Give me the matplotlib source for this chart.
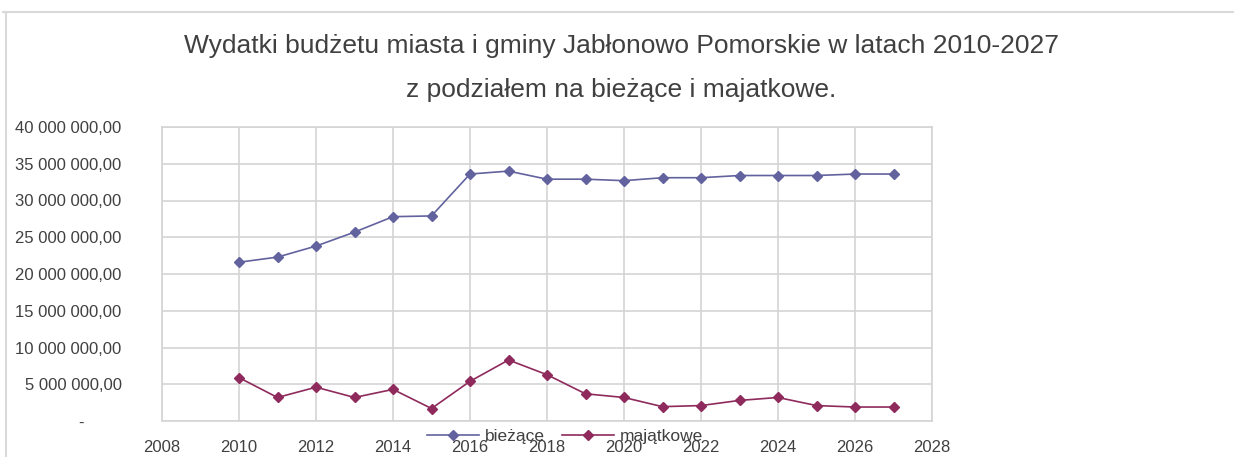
import matplotlib.pyplot as plt
from matplotlib.lines import Line2D
from matplotlib.ticker import FuncFormatter, MultipleLocator

years = list(range(2010, 2028))
biezace = [21.6, 22.3, 23.8, 25.7, 27.8, 27.9, 33.6, 34.0, 32.9, 32.9,
           32.7, 33.1, 33.1, 33.4, 33.4, 33.4, 33.6, 33.6]
majatkowe = [5.9, 3.2, 4.6, 3.2, 4.3, 1.7, 5.4, 8.3, 6.3, 3.7,
             3.2, 1.95, 2.1, 2.8, 3.2, 2.1, 1.9, 1.9]
title = ("Wydatki budżetu miasta i gminy Jabłonowo Pomorskie w latach 2010-2027\n"
         "z podziałem na bieżące i majatkowe.")

plt.rcParams["font.family"] = ["Liberation Sans", "DejaVu Sans"]

W, H = 1234, 457
fig = plt.figure(figsize=(W / 100, H / 100), dpi=100)
ax = fig.add_axes([162 / W, 1 - 421 / H, (932 - 162) / W, (421 - 127) / H])

ax.plot(years, [v * 1e6 for v in biezace], color="#62629f", marker="D",
        markersize=5.5, linewidth=1.2, label="bieżące")
ax.plot(years, [v * 1e6 for v in majatkowe], color="#8e2a5c", marker="D",
        markersize=5.5, linewidth=1.2, label="majątkowe")

ax.set_xlim(2008, 2028)
ax.set_ylim(0, 40e6)
ax.xaxis.set_major_locator(MultipleLocator(2))
ax.yaxis.set_major_locator(MultipleLocator(5e6))


def fmt(v, _):
    if v == 0:
        return "-        "
    return f"{v:,.2f}".replace(",", " ").replace(".", ",")


ax.yaxis.set_major_formatter(FuncFormatter(fmt))
ax.grid(True, color="#d4d4d4", linewidth=1.2)
for s in ax.spines.values():
    s.set_color("#d4d4d4")
    s.set_linewidth(1.2)
ax.tick_params(length=0, labelsize=12, colors="#404040")
ax.tick_params(axis="y", pad=29)
ax.tick_params(axis="x", pad=14)

fig.text(0.5 * (162 + 1080) / W, 1 - 68 / H, title, ha="center", va="center",
         fontsize=19, color="#404040", linespacing=2.0)

fig.legend(loc="center", bbox_to_anchor=(565 / W, 1 - 436 / H), ncol=2,
           frameon=False, fontsize=12.5, handlelength=3.0, columnspacing=1.0,
           handletextpad=0.3, labelcolor="#404040")

fig.add_artist(Line2D([3 / W, 1], [1 - 12 / H] * 2, color="#d9d9d9", lw=1.5))
fig.add_artist(Line2D([6 / W] * 2, [0, 1 - 12 / H], color="#d9d9d9", lw=1.5))

fig.savefig("out.png", dpi=100, facecolor="white")
